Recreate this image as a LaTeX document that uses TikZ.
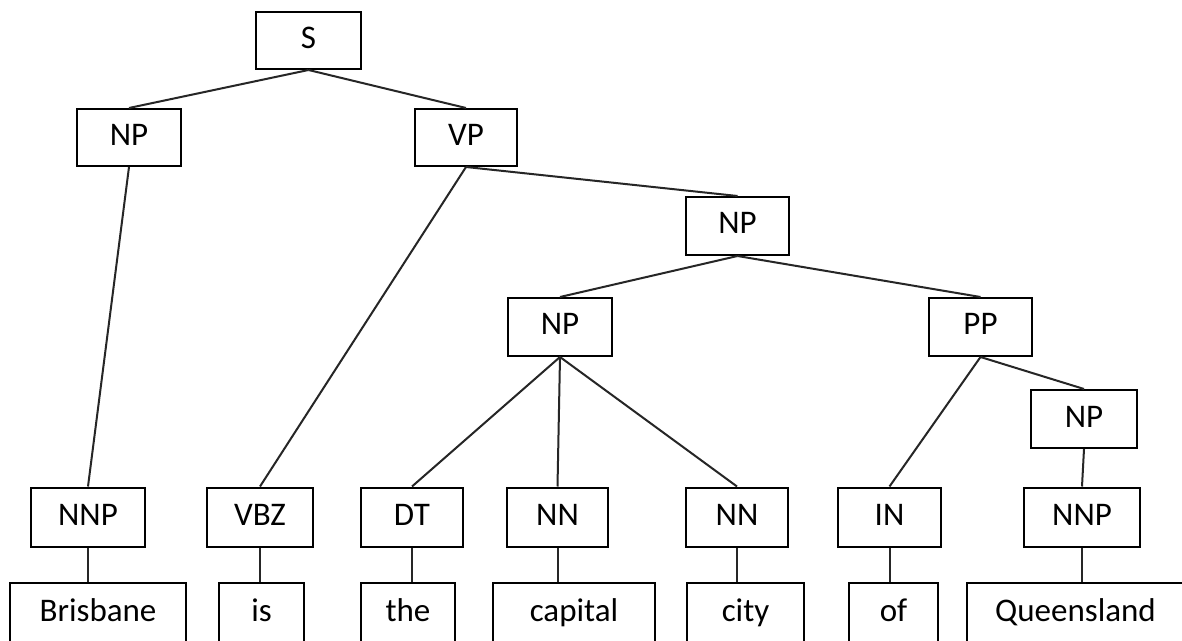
\documentclass[tikz,border=0pt]{standalone}
\usepackage{fontspec}
\setmainfont{Carlito}
\begin{document}
\begin{tikzpicture}[x=0.5pt,y=-0.5pt,
  box/.style={draw=black,line width=1pt,fill=white,inner sep=0pt,
    font=\fontsize{16.5}{19}\selectfont,text height=0.8em,text depth=0pt},
  word/.style={draw=black,line width=1pt,fill=white,inner sep=0pt,
    font=\fontsize{16.5}{19}\selectfont,text height=0.85em,text depth=0.25em,
    minimum height=32pt},
  edge/.style={draw=black!85,line width=1pt}]
\clip (0,0) rectangle (1182,641);
\fill[white] (0,0) rectangle (1182,641);
% phrase nodes
\node[box,minimum width=52.5pt,minimum height=28.5pt] (S)   at (308.5,40.5) {S};
\node[box,minimum width=52pt,minimum height=28.5pt]   (NPa) at (129,137.5)  {NP};
\node[box,minimum width=51pt,minimum height=28.5pt]   (VP)  at (466,137.5)  {VP};
\node[box,minimum width=51.5pt,minimum height=29pt]   (NPb) at (737.5,226)  {NP};
\node[box,minimum width=52pt,minimum height=29pt]     (NPc) at (560,327)    {NP};
\node[box,minimum width=51.5pt,minimum height=29pt]   (PP)  at (980.5,327)  {PP};
\node[box,minimum width=53pt,minimum height=29pt]     (NPd) at (1084,419)   {NP};
% POS nodes
\node[box,minimum width=57pt,minimum height=29.5pt]   (NNPa) at (88,517)    {NNP};
\node[box,minimum width=53pt,minimum height=29.5pt]   (VBZ)  at (260,517)   {VBZ};
\node[box,minimum width=51pt,minimum height=29.5pt]   (DT)   at (412,517)   {DT};
\node[box,minimum width=50.5pt,minimum height=29.5pt] (NNa)  at (557.5,517) {NN};
\node[box,minimum width=51pt,minimum height=29.5pt]   (NNb)  at (737,517)   {NN};
\node[box,minimum width=51.5pt,minimum height=29.5pt] (IN)   at (889.5,517) {IN};
\node[box,minimum width=58pt,minimum height=29.5pt]   (NNPb) at (1082,517)  {NNP};
% word nodes
\node[word,minimum width=88pt]   (w1) at (98,615)     {Brisbane};
\node[word,minimum width=42.5pt] (w2) at (261.5,615)  {is};
\node[word,minimum width=47pt]   (w3) at (408,615)    {the};
\node[word,minimum width=81pt]   (w4) at (574,615)    {capital};
\node[word,minimum width=58.5pt] (w5) at (745.5,615)  {city};
\node[word,minimum width=44.5pt] (w6) at (893.5,615)  {of};
\node[word,minimum width=108.5pt](w7) at (1075.5,615) {Queensland};
% tree edges
\draw[edge] (S.south) -- (NPa.north);
\draw[edge] (S.south) -- (VP.north);
\draw[edge] (NPa.south) -- (NNPa.north);
\draw[edge] (VP.south) -- (VBZ.north);
\draw[edge] (VP.south) -- (NPb.north);
\draw[edge] (NPb.south) -- (NPc.north);
\draw[edge] (NPb.south) -- (PP.north);
\draw[edge] (NPc.south) -- (DT.north);
\draw[edge] (NPc.south) -- (NNa.north);
\draw[edge] (NPc.south) -- (NNb.north);
\draw[edge] (PP.south) -- (IN.north);
\draw[edge] (PP.south) -- (NPd.north);
\draw[edge] (NPd.south) -- (NNPb.north);
% POS to word edges
\draw[edge] (NNPa.south) -- (NNPa.south |- w1.north);
\draw[edge] (VBZ.south)  -- (VBZ.south |- w2.north);
\draw[edge] (DT.south)   -- (DT.south |- w3.north);
\draw[edge] (NNa.south)  -- (NNa.south |- w4.north);
\draw[edge] (NNb.south)  -- (NNb.south |- w5.north);
\draw[edge] (IN.south)   -- (IN.south |- w6.north);
\draw[edge] (NNPb.south) -- (NNPb.south |- w7.north);
\end{tikzpicture}
\end{document}
